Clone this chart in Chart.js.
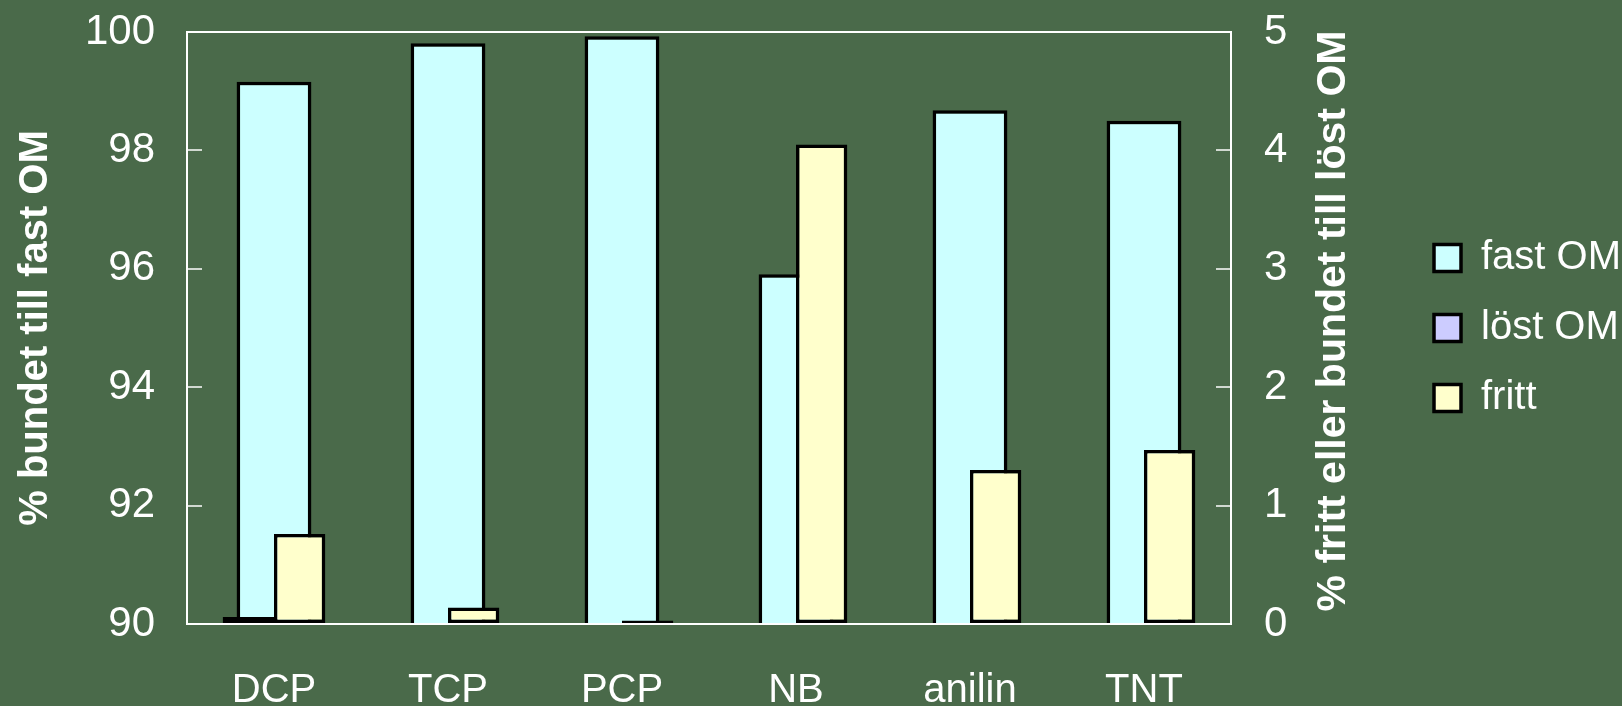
<!DOCTYPE html>
<html>
<head>
<meta charset="utf-8">
<script src="https://cdn.jsdelivr.net/npm/chart.js@4.4.0/dist/chart.umd.min.js"></script>
<style>
  html, body { margin: 0; padding: 0; background: #4a6a4a; }
  canvas { display: block; }
</style>
</head>
<body>
<canvas id="chart" width="1622" height="706"></canvas>
<script>
// data
const categories = ["DCP", "TCP", "PCP", "NB", "anilin", "TNT"];
const fastOM = [99.16, 99.81, 99.93, 95.91, 98.68, 98.50];   // left axis
const lostOM = [0.06, 0, 0, 0, 0, 0];                         // right axis
const fritt = [0.76, 0.14, 0.03, 4.05, 1.30, 1.47];           // right axis

const leftTitle = "% bundet till fast OM";
const rightTitle = "% fritt eller bundet till löst OM";

const white = "#ffffff";
const fontFam = "'Liberation Sans', Arial, sans-serif";

Chart.defaults.font.family = fontFam;
Chart.defaults.color = white;

// white frame round the plot + right title (reads bottom to top like the left one)
const frame = {
  id: "frame",
  afterDraw(chart) {
    const ctx = chart.ctx;
    const a = chart.chartArea;
    ctx.save();
    ctx.strokeStyle = white;
    ctx.lineWidth = 2;
    ctx.strokeRect(a.left, a.top, a.right - a.left, a.bottom - a.top);

    ctx.fillStyle = white;
    ctx.font = "bold 41px " + fontFam;
    ctx.textAlign = "center";
    ctx.textBaseline = "middle";
    ctx.translate(1334, (a.top + a.bottom) / 2 - 7);
    ctx.rotate(-Math.PI / 2);
    ctx.fillText(rightTitle, 0, 0);
    ctx.restore();
  }
};

function bars(label, data, color, yId, order, catPct, grouped) {
  return {
    label: label,
    data: data,
    backgroundColor: color,
    borderColor: "#000000",
    borderWidth: 3.5,
    borderSkipped: false,
    yAxisID: yId,
    order: order,
    grouped: grouped,
    categoryPercentage: catPct,
    barPercentage: 1
  };
}

const innerTicks = {
  drawOnChartArea: false,
  drawTicks: true,
  tickLength: -15,
  color: "rgba(255,255,255,0.75)",
  lineWidth: 2
};

// fixed axis width; drop the label padding the axis asks for above/below the plot
function fixWidth(w) {
  return (s) => {
    s.width = w;
    s.paddingTop = 0;
    s.paddingBottom = 0;
  };
}

new Chart(document.getElementById("chart"), {
  type: "bar",
  data: {
    labels: categories,
    datasets: [
      // fast OM sits alone in the middle, the two small series side by side over it
      bars("fast OM", fastOM, "#ccffff", "y", 2, 0.43, false),
      bars("löst OM", lostOM, "#ccccff", "y2", 0, 0.59, true),
      bars("fritt", fritt, "#ffffcc", "y2", 1, 0.59, true)
    ]
  },
  options: {
    responsive: false,
    animation: false,
    layout: { autoPadding: false, padding: { top: 32, left: 0, right: 0, bottom: 0 } },
    plugins: {
      tooltip: { enabled: false },
      legend: {
        position: "right",
        fullSize: false,
        maxWidth: 218,
        labels: {
          font: { size: 40 },
          color: white,
          boxWidth: 27,
          boxHeight: 27,
          padding: 30,
          sort: (a, b) => a.datasetIndex - b.datasetIndex
        }
      }
    },
    scales: {
      x: {
        type: "category",
        position: "bottom",
        offset: true,
        grid: { display: false },
        border: { display: false },
        ticks: { font: { size: 40 }, color: white, padding: 35, maxRotation: 0 },
        afterFit: (s) => { s.height = 82; }
      },
      y: {
        position: "left",
        min: 90,
        max: 100,
        grid: innerTicks,
        border: { display: false },
        ticks: { stepSize: 2, font: { size: 42 }, color: white, padding: 47 },
        title: {
          display: true,
          text: leftTitle,
          color: white,
          font: { size: 40, weight: "bold" },
          padding: { top: 12, bottom: 0 }
        },
        afterFit: fixWidth(187)
      },
      y2: {
        position: "right",
        min: 0,
        max: 5,
        grid: innerTicks,
        border: { display: false },
        ticks: { stepSize: 1, font: { size: 42 }, color: white, padding: 48 },
        afterFit: fixWidth(173)
      }
    }
  },
  plugins: [frame]
});
</script>
</body>
</html>
